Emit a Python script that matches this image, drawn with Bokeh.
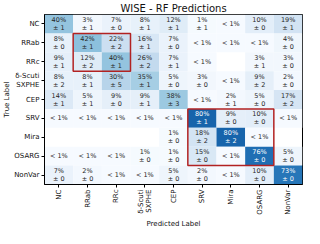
import math
from bokeh.plotting import figure
from bokeh.models import ColumnDataSource, FactorRange, LinearColorMapper, Title
from bokeh.palettes import Blues256
from bokeh.embed import file_html
from bokeh.resources import INLINE
from bokeh.core.properties import value

# Class labels (true = rows, predicted = columns)
labels = ["NC", "RRab", "RRc", "δ-Scuti\nSXPHE", "CEP", "SRV", "Mira", "OSARG", "NonVar"]

# Mean percentage per cell; 0.5 stands for "< 1%", None = empty cell
means = [
    [40, 3, 7, 8, 12, 1, 0.5, 10, 19],
    [8, 42, 22, 16, 7, 0.5, 0.5, 0.5, 4],
    [9, 12, 40, 26, 7, 0.5, None, 3, 3],
    [8, 8, 30, 35, 5, 3, 0.5, 9, 2],
    [14, 5, 9, 9, 38, 0.5, 2, 5, 17],
    [0.5, 0.5, 0.5, 0.5, 0.5, 80, 9, 10, 0.5],
    [None, None, None, None, 1, 18, 80, 0.5, None],
    [0.5, 0.5, 0.5, 1, 1, 15, 0.5, 76, 5],
    [7, 2, 0.5, 0.5, 5, 2, 0.5, 10, 73],
]
# Standard deviation per cell (percentage points)
stds = [
    [1, 1, 0, 1, 1, 1, None, 0, 1],
    [0, 1, 2, 1, 0, None, None, None, 0],
    [1, 2, 1, 2, 1, None, None, 1, 0],
    [2, 1, 5, 1, 0, 0, None, 2, 0],
    [1, 1, 0, 1, 3, None, 1, 0, 2],
    [None, None, None, None, None, 1, 0, 0, None],
    [None, None, None, None, 0, 2, 2, None, None],
    [None, None, None, 0, 0, 0, None, 0, 0],
    [0, 0, None, None, 0, 0, None, 0, 0],
]
# Highlighted blocks (first class, last class)
box_first = ["RRab", "SRV"]
box_last = ["RRc", "OSARG"]

n = len(labels)
xs, ys, vs, t1, t2, off1, tcs = [], [], [], [], [], [], []
for i, row in enumerate(means):
    for j, m in enumerate(row):
        if m is None:
            continue
        xs.append(labels[j])
        ys.append(labels[i])
        vs.append(m / 100.0)
        if m < 1:
            t1.append("< 1%")
            t2.append("")
            off1.append(0)
        else:
            t1.append(f"{m}%")
            t2.append(f"± {stds[i][j]}")
            off1.append(-4)
        tcs.append("white" if m > 50 else "#262626")

src = ColumnDataSource(dict(x=xs, y=ys, v=vs, t1=t1, t2=t2, o1=off1, tc=tcs))
mapper = LinearColorMapper(palette=Blues256[::-1], low=0, high=1)

p = figure(width=304, height=228, output_backend="svg", toolbar_location=None,
           x_range=FactorRange(factors=labels), y_range=FactorRange(factors=labels[::-1]),
           title="WISE - RF Predictions")
p.rect(x="x", y="y", width=1, height=1, source=src,
       fill_color={"field": "v", "transform": mapper}, line_color=None)
txt = dict(source=src, text_align="center", text_baseline="middle",
           text_font_size="6.5px", text_color="tc", text_font=value("DejaVu Sans"))
p.text(x="x", y="y", text="t1", y_offset="o1", **txt)
p.text(x="x", y="y", text="t2", y_offset=4, **txt)

bl = [labels.index(a) for a in box_first]
br = [labels.index(b) + 1 for b in box_last]
p.quad(left=bl, right=br, top=[n - a for a in bl], bottom=[n - b for b in br],
       fill_color=None, line_color="#b22222", line_width=1.5)

p.title.align = "center"
p.title.text_font = "DejaVu Sans"
p.title.text_font_size = "10px"
p.title.text_font_style = "normal"
p.title.text_color = "#111111"
p.title.standoff = 1

for ax in (p.xaxis[0], p.yaxis[0]):
    ax.major_label_text_font = "DejaVu Sans"
    ax.major_label_text_font_size = "7px"
    ax.major_label_text_color = "#111111"
    ax.major_label_standoff = 2
    ax.major_tick_out = 3
    ax.major_tick_in = 0
    ax.axis_line_color = "black"
    ax.major_tick_line_color = "black"

p.xaxis.major_label_orientation = math.pi / 2
p.xaxis.major_label_text_line_height = 1.0

xl = Title(text="Predicted Label", align="center", text_font="DejaVu Sans",
           text_font_size="7px", text_font_style="normal", text_color="#111111", standoff=1)
p.add_layout(xl, "below")
yl = Title(text="True Label", align="center", text_font="DejaVu Sans",
           text_font_size="7px", text_font_style="normal", text_color="#111111", standoff=1)
p.add_layout(yl, "left")

p.xgrid.grid_line_color = None
p.ygrid.grid_line_color = None
p.outline_line_color = "black"
p.outline_line_alpha = 1
p.outline_line_width = 1
p.border_fill_color = "white"
p.min_border_left = 0
p.min_border_right = 2
p.min_border_top = 0
p.min_border_bottom = 0

open("out.html", "w").write(file_html(p, INLINE))
